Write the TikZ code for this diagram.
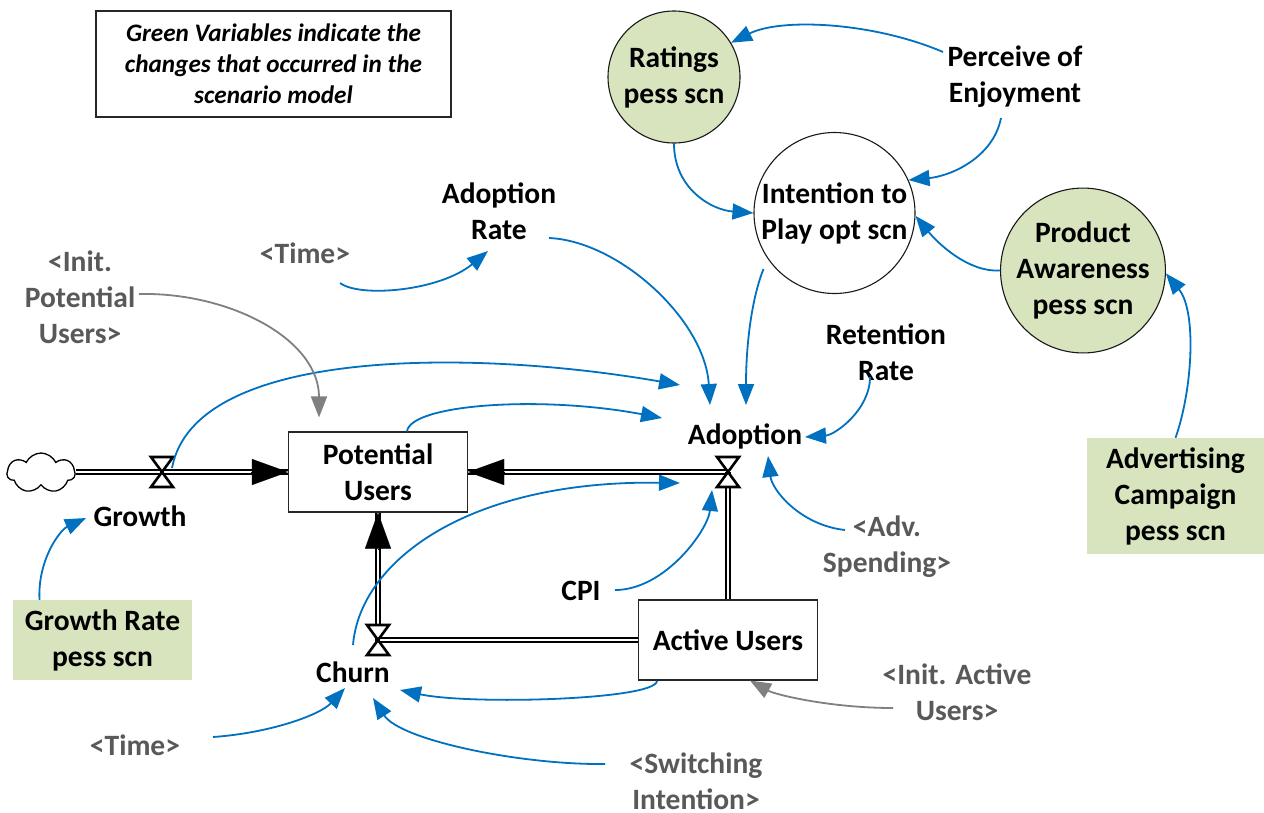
\documentclass[tikz,border=0pt]{standalone}
\usepackage{fontspec}
\setmainfont{Carlito}
\usetikzlibrary{arrows.meta,shapes.symbols}

\definecolor{linkblue}{HTML}{0070C0}
\definecolor{scngreen}{HTML}{D7E4BD}
\definecolor{shadowgrey}{HTML}{595959}
\definecolor{ghostarrow}{HTML}{808080}

\tikzset{
  lbl/.style={font=\fontsize{29.5}{36}\selectfont\bfseries, align=center, inner sep=0pt},
  shadowlbl/.style={lbl, text=shadowgrey},
  stockbox/.style={lbl, draw=black!85, line width=1.1pt, fill=white,
                   minimum width=179pt, minimum height=80pt},
  greenbox/.style={lbl, fill=scngreen},
  auxcircle/.style={lbl, circle, draw=black!90, line width=1.1pt},
  notebox/.style={draw=black!85, line width=1.1pt, align=center, inner sep=0pt,
                  minimum width=355pt, minimum height=106pt,
                  font=\fontsize{25.2}{31}\selectfont\bfseries\itshape},
  link/.style={draw=linkblue, line width=1.8pt, -{Triangle[length=21pt,width=16pt]}},
  greylink/.style={draw=ghostarrow, line width=1.8pt, -{Triangle[length=21pt,width=16pt]}},
  pipe/.style={draw=black, line width=1.3pt, double=white, double distance=2.6pt},
  pipetip/.style={draw=black, line width=0.1pt, -{Triangle[length=36pt,width=26pt]}},
  valve/.pic={\draw[line width=2.6pt, fill=white, line join=miter]
                (-11,-15) -- (11,-15) -- (-11,15) -- (11,15) -- cycle;}
}

\begin{document}
\begin{tikzpicture}[x=1pt,y=-1pt]
\useasboundingbox (0,0) rectangle (1264,812);
\fill[white] (0,0) rectangle (1264,812);

% legend
\node[notebox] (note) at (273.5,64) {Green Variables indicate the\\changes that occurred in the\\scenario model};

% auxiliaries drawn as circles
\node[auxcircle, fill=scngreen, minimum size=132pt] (rat) at (674,77) {Ratings\\pess scn};
\node[auxcircle, fill=white, minimum size=161pt] (int) at (834.5,213) {Intention to\\Play opt scn};
\node[auxcircle, fill=scngreen, minimum size=149pt] (pa) at (1083,270.5) {Product\\Awareness\\pess scn};

% scenario parameters
\node[greenbox, minimum width=179pt, minimum height=80pt] (gr) at (102.5,640) {Growth Rate\\pess scn};
\node[greenbox, minimum width=177pt, minimum height=116pt] (adv) at (1175.5,496) {Advertising\\Campaign\\pess scn};

% plain variables
\node[lbl] (perc) at (1015,77) {Perceive of\\Enjoyment};
\node[lbl] (arate) at (499,211) {Adoption\\Rate};
\node[lbl] (ret) at (886,352) {Retention\\Rate};
\node[lbl] (adop) at (745,436) {Adoption};
\node[lbl] (growth) at (140,516) {Growth};
\node[lbl] (cpi) at (581,591) {CPI};
\node[lbl] (churn) at (353,672) {Churn};

% shadow variables
\node[shadowlbl] (timeA) at (305,253) {<Time>};
\node[shadowlbl] (ipu) at (80,297) {<Init.\\Potential\\Users>};
\node[shadowlbl] (advs) at (887,547) {<Adv.\\Spending>};
\node[shadowlbl] (iau) at (957,692) {<Init. Active\\Users>};
\node[shadowlbl] (timeB) at (135,745) {<Time>};
\node[shadowlbl] (sw) at (696,781) {<Switching\\Intention>};

% stocks
\node[stockbox] (pu) at (378,472) {Potential\\Users};
\node[stockbox] (au) at (728,640) {Active Users};

% source cloud and flow valves
\node[cloud, draw, line width=1.3pt, fill=white, cloud puffs=7, cloud puff arc=130,
      aspect=1.8, minimum width=68pt, minimum height=40pt, inner sep=0pt] (src) at (41,473) {};
\coordinate (gv) at (162,472);
\coordinate (av) at (728,472);
\coordinate (cv) at (378,640);

% flow pipes
\draw[pipe] (src.east |- gv) -- (gv) -- (pu.west);
\draw[pipe] (av) -- (pu.east);
\draw[pipe] (au.north) -- (av);
\draw[pipe] (au.west) -- (cv) -- (pu.south);
\draw[pipetip] ([xshift=-37pt]pu.west) -- (pu.west);
\draw[pipetip] ([xshift=37pt]pu.east) -- (pu.east);
\draw[pipetip] ([yshift=-37pt]pu.south) -- (pu.south);

\pic at (gv) {valve};
\pic at (av) {valve};
\pic at (cv) {valve};

% causal links
\draw[link] ([shift={(-72,-25)}]perc.center) .. controls +(-70,-30) and +(50,-25) .. (rat.31);
\draw[link] ([shift={(-14,41)}]perc.center) .. controls +(-8,40) and +(42,-4) .. (int.24);
\draw[link] (rat.south) .. controls +(0,45) and +(-42,-3) .. (int.west);
\draw[link] (pa.west) .. controls +(-32,2) and +(22,27) .. (int.-2);
\draw[link] ([shift={(-71,56)}]int.center) .. controls +(-12,30) and +(0,-60) .. ([shift={(1,-31)}]adop.center);
\draw[link] ([shift={(50,27)}]arate.center) .. controls +(70,3) and +(-5,-85) .. ([shift={(-35,-31)}]adop.center);
\draw[link] ([shift={(35,30)}]timeA.center) .. controls +(20,15) and +(-48,40) .. ([shift={(-11,40)}]arate.center);
\draw[link] ([shift={(-16,25)}]ret.center) .. controls +(0,33) and +(30,-2) .. ([shift={(60,1)}]adop.center);
\draw[link] ([shift={(-42,-17)}]advs.center) .. controls +(-45,-5) and +(4,34) .. ([shift={(23,20)}]adop.center);
\draw[link] ([shift={(34,-1)}]cpi.center) .. controls +(50,0) and +(-4,40) .. ([shift={(-16,18)}]av);
\draw[link] ([shift={(10,-4)}]gv) .. controls +(23,-123) and +(-200,-35) .. ([shift={(-65,-51)}]adop.center);
\draw[link] ([shift={(29,0)}]pu.north) .. controls +(3,-27) and +(-122,-23) .. ([shift={(-83,-18)}]adop.center);
\draw[link] ([shift={(0,-27)}]churn.center) .. controls +(7,-85) and +(-210,-3) .. ([shift={(-65,47)}]adop.center);
\draw[link] ([shift={(-71,41)}]au.center) .. controls +(-2,19) and +(70,15) .. ([shift={(47,18)}]churn.center);
\draw[link] ([shift={(78,-8)}]timeB.center) .. controls +(57,-4) and +(-25,27) .. ([shift={(-8,16)}]churn.center);
\draw[link] ([shift={(-91,-17)}]sw.center) .. controls +(-85,1) and +(27,42) .. ([shift={(20,26)}]churn.center);
\draw[link] ([shift={(-63,0)}]gr.north) .. controls +(-2,-40) and +(-26,12) .. ([shift={(-54,2)}]growth.center);
\draw[link] (adv.north) .. controls +(17,-48) and +(31,38) .. (pa.-2);
\draw[greylink] ([shift={(59,-3)}]ipu.center) .. controls +(91,-2) and +(0,-78) .. ([shift={(-59,-14)}]pu.north);
\draw[greylink] ([shift={(-64,16)}]iau.center) .. controls +(-63,0) and +(25,14) .. ([shift={(22,0)}]au.south);
\end{tikzpicture}
\end{document}
